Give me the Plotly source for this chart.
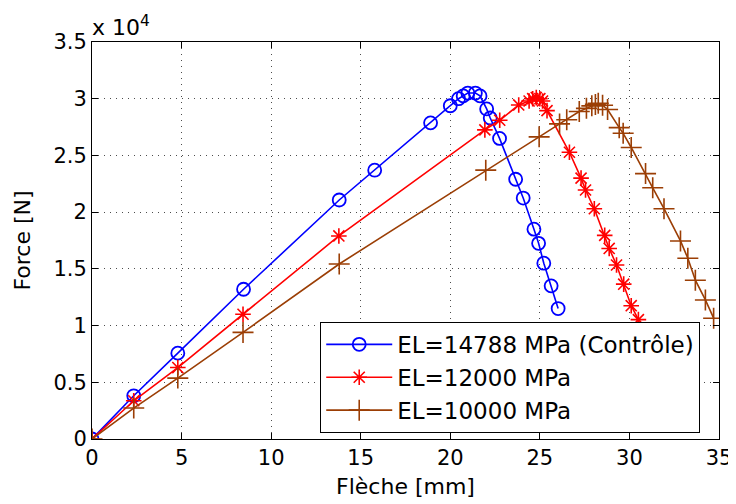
import plotly.graph_objects as go

# Data (flèche in mm, force in N)
blue_x = [0, 2.33, 4.79, 8.46, 13.8, 15.78, 18.9, 20.0, 20.46, 20.72, 20.98, 21.4, 21.66, 22.03, 22.23, 22.75,
          23.65, 24.07, 24.67, 24.93, 25.22, 25.63, 26.02]
blue_y = [0, 3810, 7570, 13200, 21070, 23700, 27870, 29380, 30000, 30250, 30500, 30500, 30250, 29100, 28300, 26500,
          22900, 21240, 18500, 17250, 15500, 13500, 11500]

red_x = [0, 2.33, 4.79, 8.43, 13.78, 21.93, 22.76, 23.82, 24.4, 24.6, 24.8, 25.0, 25.15, 25.4,
         26.65, 27.3, 27.55, 28.04, 28.62, 28.87, 29.28, 29.68, 30.1, 30.5]
red_y = [0, 3370, 6300, 11000, 17900, 27250, 28100, 29450, 29800, 30000, 30100, 30000, 29800, 28950,
         25280, 23000, 21950, 20300, 17950, 16800, 15340, 13650, 11750, 10520]

brown_x = [0, 2.33, 4.79, 8.43, 13.8, 21.98, 24.96, 26.1, 26.5, 27.2, 27.6, 27.9, 28.1, 28.26, 28.5, 28.78,
           29.43, 29.65, 30.1, 30.9, 31.3, 31.93, 32.85, 33.26, 33.68, 34.24, 34.7]
brown_y = [0, 2730, 5370, 9400, 15430, 23700, 26640, 27780, 28150, 28870, 29150, 29370, 29500, 29600, 29430, 29050,
           27450, 26950, 25700, 23400, 22150, 20300, 17460, 15930, 14000, 12260, 10650]

labels = ["EL=14788 MPa (Contrôle)", "EL=12000 MPa", "EL=10000 MPa"]
x_ticks = [0, 5, 10, 15, 20, 25, 30, 35]
y_tickvals = [0, 5000, 10000, 15000, 20000, 25000, 30000, 35000]
y_ticktext = ["0", "0.5", "1", "1.5", "2", "2.5", "3", "3.5"]

BROWN = "rgb(155,62,5)"
FONT = "DejaVu Sans, Liberation Sans, Arial, sans-serif"

fig = go.Figure()
fig.add_trace(go.Scatter(x=blue_x, y=blue_y, name=labels[0], mode="lines+markers",
                         line=dict(color="rgb(0,0,255)", width=1.6),
                         marker=dict(symbol="circle-open", size=13, color="rgb(0,0,255)",
                                     line=dict(width=1.8, color="rgb(0,0,255)"))))
fig.add_trace(go.Scatter(x=red_x, y=red_y, name=labels[1], mode="lines+markers",
                         line=dict(color="rgb(255,0,0)", width=1.6),
                         marker=dict(symbol="asterisk-open", size=13, color="rgb(255,0,0)",
                                     line=dict(width=1.6, color="rgb(255,0,0)"))))
fig.add_trace(go.Scatter(x=brown_x, y=brown_y, name=labels[2], mode="lines+markers",
                         line=dict(color=BROWN, width=1.6),
                         marker=dict(symbol="cross-thin-open", size=15, color=BROWN,
                                     line=dict(width=1.6, color=BROWN))))

axis_common = dict(showline=True, linecolor="black", linewidth=1, mirror="ticks",
                   ticks="inside", ticklen=6, tickcolor="black",
                   showgrid=True, gridcolor="rgba(0,0,0,0.7)", griddash="1px,5px", gridwidth=1,
                   zeroline=False, tickfont=dict(size=21, color="black", family=FONT))

fig.update_xaxes(range=[0, 35], tickvals=x_ticks, ticktext=[str(v) for v in x_ticks],
                 title=dict(text="Flèche [mm]", font=dict(size=22, color="black", family=FONT), standoff=9),
                 **axis_common)
fig.update_yaxes(range=[0, 35000], tickvals=y_tickvals, ticktext=y_ticktext,
                 title=dict(text="Force [N]", font=dict(size=22, color="black", family=FONT), standoff=16),
                 **axis_common)

fig.add_annotation(text="x 10<sup>4</sup>", xref="paper", yref="paper", x=0.0, y=1.0,
                   xanchor="left", yanchor="bottom", showarrow=False, yshift=0, xshift=-2,
                   font=dict(size=22, color="black", family=FONT))

# page body has an 8px margin; plot area targets page px x 92..721, y 42..439
fig.update_layout(
    width=736, height=504,
    margin=dict(l=84, r=23, t=34, b=73),
    plot_bgcolor="white", paper_bgcolor="white",
    font=dict(family=FONT, color="black"),
    legend=dict(x=0.364, y=0.295, xanchor="left", yanchor="top",
                bgcolor="white", bordercolor="black", borderwidth=1,
                font=dict(size=23, color="black", family=FONT),
                itemwidth=66, tracegroupgap=0),
    showlegend=True,
)

fig.write_html("out.html")
